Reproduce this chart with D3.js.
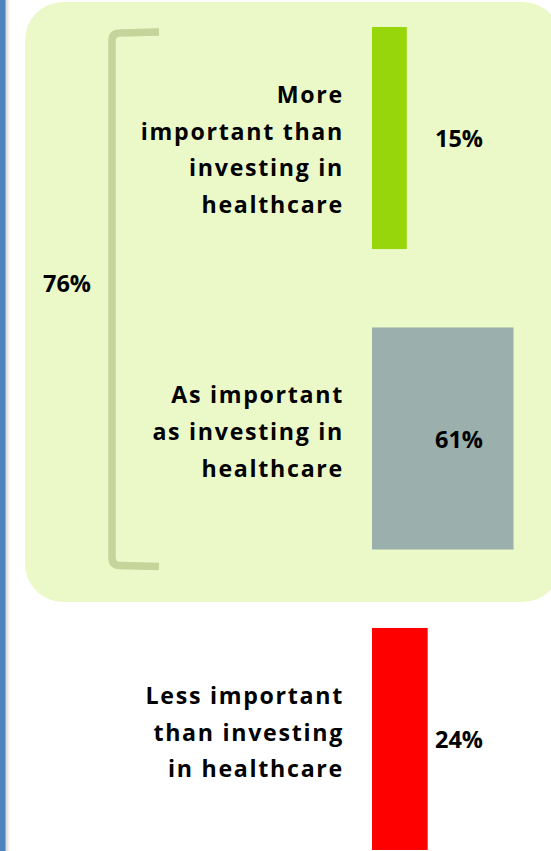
<!DOCTYPE html>
<html>
<head>
<meta charset="utf-8">
<script src="https://cdn.jsdelivr.net/npm/d3@7"></script>
<style>
  html, body { margin: 0; padding: 0; background: #ffffff; }
  svg { display: block; }
</style>
</head>
<body>
<svg id="chart" width="551" height="851"></svg>
<script>
// ---- data ----
const categories = ["More important than investing in healthcare",
                    "As important as investing in healthcare",
                    "Less important than investing in healthcare"];
const labelLines = [["More", "important than", "investing in", "healthcare"],
                    ["As important", "as investing in", "healthcare"],
                    ["Less important", "than investing", "in healthcare"]];
const values = [15, 61, 24];
const valueLabels = ["15%", "61%", "24%"];
const barColors = ["#97D60B", "#9BAFAC", "#FF0000"];
const groupedCount = 2; // first two categories bracketed together

// ---- layout ----
const W = 551, H = 851;
const svg = d3.select("#chart");

const y = d3.scaleBand().domain(categories).range([27, 850]).paddingInner(0.261).paddingOuter(0);
const x = d3.scaleLinear().domain([0, 100]).range([0, 232]);
const barX = 372;

// left blue rule + soft shadow
const defs = svg.append("defs");
const g1 = defs.append("linearGradient").attr("id", "shadow").attr("x1", 0).attr("x2", 1);
g1.append("stop").attr("offset", 0).attr("stop-color", "#cfcfcf");
g1.append("stop").attr("offset", 1).attr("stop-color", "#ffffff");
svg.append("rect").attr("x", 5).attr("y", 0).attr("width", 5).attr("height", H).attr("fill", "url(#shadow)");
svg.append("rect").attr("x", 0).attr("y", 0).attr("width", 5.5).attr("height", H).attr("fill", "#4F81BD");

// grouping panel
svg.append("rect")
  .attr("x", 25).attr("y", 2).attr("width", 536).attr("height", 600)
  .attr("rx", 38).attr("ry", 38)
  .attr("fill", "#EBF9C9");

// bracket
const bTop = y(categories[0]) + 6;
const bBot = y(categories[groupedCount - 1]) + y.bandwidth() + 16;
const bx = 112, bEnd = 159;
svg.append("path")
  .attr("d", `M${bEnd},${bTop - 1} L${bx + 8},${bTop} Q${bx},${bTop} ${bx},${bTop + 8} L${bx},${bBot - 8} Q${bx},${bBot} ${bx + 8},${bBot} L${bEnd},${bBot + 1}`)
  .attr("fill", "none")
  .attr("stroke", "#C4D49A")
  .attr("stroke-width", 7.5);

// grouped total label
const groupTotal = d3.sum(values.slice(0, groupedCount));
svg.append("text")
  .attr("x", 67).attr("y", 292)
  .attr("text-anchor", "middle")
  .attr("font-family", "'Open Sans', sans-serif")
  .attr("font-weight", 700)
  .attr("font-size", 23.5)
  .attr("fill", "#000")
  .text(groupTotal + "%");

// bars
svg.selectAll("rect.bar")
  .data(categories)
  .join("rect")
  .attr("class", "bar")
  .attr("x", barX)
  .attr("y", d => y(d))
  .attr("width", (d, i) => x(values[i]))
  .attr("height", y.bandwidth())
  .attr("fill", (d, i) => barColors[i]);

// category labels
categories.forEach((c, i) => {
  const t = svg.append("text")
    .attr("text-anchor", "end")
    .attr("font-family", "'Open Sans', sans-serif")
    .attr("font-weight", 700)
    .attr("font-size", 23.2)
    .attr("letter-spacing", "1.7px")
    .attr("fill", "#000");
  labelLines[i].forEach((line, j) => {
    t.append("tspan")
      .attr("x", 344)
      .attr("y", y(c) + 76 + j * 36.6)
      .text(line);
  });
});

// value labels
svg.selectAll("text.val")
  .data(categories)
  .join("text")
  .attr("class", "val")
  .attr("x", 459)
  .attr("y", d => y(d) + y.bandwidth() / 2 + 9)
  .attr("text-anchor", "middle")
  .attr("font-family", "'Open Sans', sans-serif")
  .attr("font-weight", 700)
  .attr("font-size", 23.5)
  .attr("fill", "#000")
  .text((d, i) => valueLabels[i]);
</script>
</body>
</html>
